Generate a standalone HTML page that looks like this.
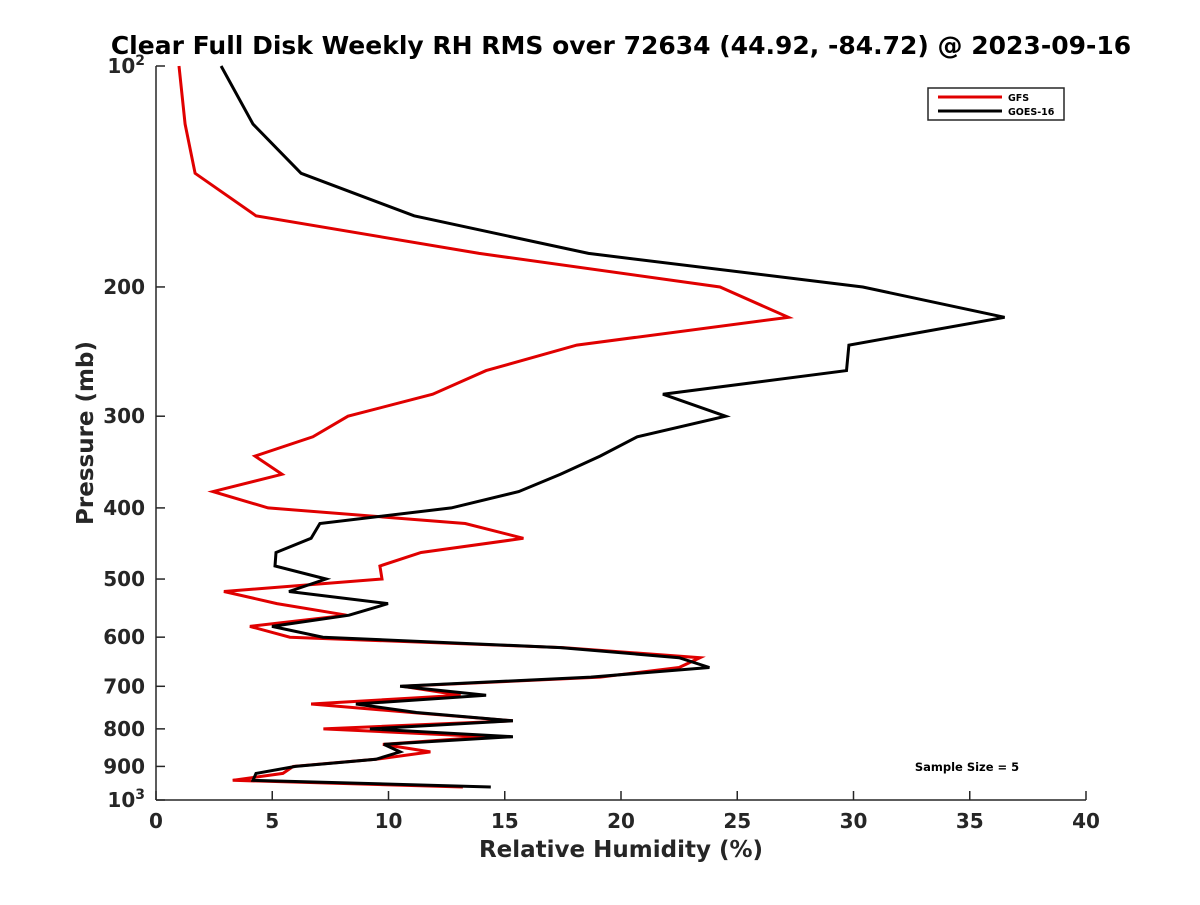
<!DOCTYPE html>
<html><head><meta charset="utf-8"><style>
body{margin:0;background:#fff}
svg text{font-family:"DejaVu Sans","Liberation Sans",sans-serif;font-weight:bold;fill:#262626}
</style></head><body>
<svg id="chart" width="1200" height="900" xmlns="http://www.w3.org/2000/svg">
<rect width="1200" height="900" fill="#fff"/>
<text x="621" y="54" text-anchor="middle" font-size="25" style="fill:#000">Clear Full Disk Weekly RH RMS over 72634 (44.92, -84.72) @ 2023-09-16</text>
<g id="axes"></g>
<g id="series"></g>
<text x="621" y="857" text-anchor="middle" font-size="23">Relative Humidity (%)</text>
<text transform="translate(93,433) rotate(-90)" text-anchor="middle" font-size="23">Pressure (mb)</text>
<g>
<rect x="928" y="88" width="136" height="32" fill="#fff" stroke="#262626" stroke-width="1.5"/>
<line x1="938" y1="97" x2="1002" y2="97" stroke="#e00000" stroke-width="3"/>
<text x="1008" y="101" font-size="9.5" style="fill:#000">GFS</text>
<line x1="938" y1="111" x2="1002" y2="111" stroke="#000" stroke-width="3"/>
<text x="1008" y="115" font-size="9.5" style="fill:#000">GOES-16</text>
</g>
<text x="967" y="771" text-anchor="middle" font-size="11.5" style="fill:#000">Sample Size = 5</text>
</svg>
<script>
const pressures=[100,120,140,160,180,200,220,240,260,280,300,320,340,360,380,400,420,440,460,480,500,520,540,560,580,600,620,640,660,680,700,720,740,760,780,800,820,840,860,880,900,920,940,960];
const gfsValues=[0.99,1.25,1.68,4.3,13.9,24.26,27.2,18.1,14.2,11.9,8.26,6.75,4.26,5.42,2.45,4.82,13.3,15.8,11.4,9.63,9.72,2.92,5.2,8.2,4.04,5.76,17.5,23.4,22.5,19.1,10.6,13.1,6.67,11.0,15.35,7.2,14.3,9.76,11.8,9.46,5.9,5.46,3.3,13.2];
const goesValues=[2.8,4.17,6.24,11.1,18.6,30.4,36.5,29.8,29.7,21.8,24.5,20.7,19.1,17.4,15.6,12.7,7.05,6.67,5.16,5.12,7.31,5.72,9.98,8.3,4.99,7.18,17.4,22.5,23.8,18.7,10.5,14.2,8.6,11.2,15.35,9.2,15.35,9.8,10.5,9.46,6.0,4.3,4.17,14.4];
const xTicks=[0,5,10,15,20,25,30,35,40];
const yTicks=[100,200,300,400,500,600,700,800,900,1000];
const X0=156,X1=1086,Y0=66,Y1=800;
const xs=v=>X0+(v-0)/40*(X1-X0);
const ys=p=>Y0+(Math.log10(p)-2)*(Y1-Y0);
const NS="http://www.w3.org/2000/svg";
function mk(t,a,parent){const e=document.createElementNS(NS,t);for(const k in a)e.setAttribute(k,a[k]);parent.appendChild(e);return e;}
const ax=document.getElementById('axes');
const xl=mk('line',{x1:X0,y1:Y1,x2:X1,y2:Y1,stroke:'#262626','stroke-width':1.5},ax);


const yl=mk('line',{x1:X0,y1:Y0,x2:X0,y2:Y1,stroke:'#262626','stroke-width':1.5},ax);


xTicks.forEach(v=>{
  const x=xs(v);
  mk('line',{x1:x,y1:Y1,x2:x,y2:Y1-9,stroke:'#262626','stroke-width':1.5},ax);
  const t=mk('text',{x:x,y:Y1+28,'text-anchor':'middle','font-size':20},ax);
  t.textContent=v;
  
  
});
yTicks.forEach(p=>{
  const y=ys(p);
  mk('line',{x1:X0,y1:y,x2:X0+9,y2:y,stroke:'#262626','stroke-width':1.5},ax);
  const t=mk('text',{x:X0-11,y:y+7,'text-anchor':'end','font-size':20},ax);
  if(p===100||p===1000){
    t.textContent='10';
    const s=mk('tspan',{dy:-8,'font-size':14},t);
    s.textContent=p===100?'2':'3';
  } else t.textContent=p;
  
  
});
const sg=document.getElementById('series');
function line(vals,color,name){
  const pts=vals.map((v,i)=>xs(v).toFixed(1)+','+ys(pressures[i]).toFixed(1)).join(' ');
  const pl=mk('polyline',{points:pts,fill:'none',stroke:color,'stroke-width':3,'stroke-linejoin':'miter'},sg);
  
  
}
line(gfsValues,'#e00000','gfs-line');
line(goesValues,'#000','goes16-line');
</script>
</body></html>
